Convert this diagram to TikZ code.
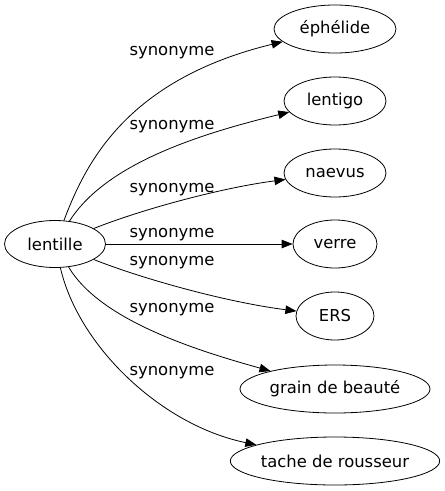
\documentclass[tikz,border=0pt]{standalone}
\usepackage{fontspec}
\setmainfont{DejaVu Sans}
\usetikzlibrary{arrows.meta,shapes.geometric}

\begin{document}
\begin{tikzpicture}[x=1pt, y=-1pt]
\tikzstyle{word} = [ellipse, draw = black, line width = 0.8pt, inner sep = 0pt, minimum height = 48pt, font = \fontsize{16.4}{19}\selectfont]
\tikzstyle{rel} = [font = \fontsize{16.4}{19}\selectfont]
\tikzstyle{edge} = [-{Triangle[length = 11pt, width = 8.5pt]}, line width = 0.8pt]
\useasboundingbox (0, 0) rectangle (445, 491);
\node[word, minimum width = 101pt, minimum height = 47pt] (lent) at (55, 244) {lentille};
\node[word, minimum width = 122pt] (eph) at (335, 29) {éphélide};
\node[word, minimum width = 102pt] (lgo) at (335, 101) {lentigo};
\node[word, minimum width = 102pt] (nae) at (335, 173) {naevus};
\node[word, minimum width = 84pt] (ver) at (335, 244) {verre};
\node[word, minimum width = 78pt] (ers) at (335, 316) {ERS};
\node[word, minimum width = 190pt] (gra) at (335, 389) {grain de beauté};
\node[word, minimum width = 206pt] (tac) at (335, 461) {tache de rousseur};
\node[rel] (s1) at (172, 53) {synonyme};
\node[rel] (s2) at (172, 127) {synonyme};
\node[rel] (s3) at (172, 190) {synonyme};
\node[rel] (s4) at (172, 235) {synonyme};
\node[rel] (s5) at (172, 263) {synonyme};
\node[rel] (s6) at (172, 310) {synonyme};
\node[rel] (s7) at (172, 373) {synonyme};
\draw[edge] (lent) .. controls (85, 165) and (125, 80) .. (eph);
\draw[edge] (lent) .. controls (105, 165) and (195, 135) .. (lgo);
\draw[edge] (lent) .. controls (140, 210) and (220, 188) .. (nae);
\draw[edge] (lent) -- (ver);
\draw[edge] (lent) .. controls (140, 278) and (225, 302) .. (ers);
\draw[edge] (lent) .. controls (100, 320) and (195, 350) .. (gra);
\draw[edge] (lent) .. controls (78, 345) and (160, 425) .. (tac);
\end{tikzpicture}
\end{document}
